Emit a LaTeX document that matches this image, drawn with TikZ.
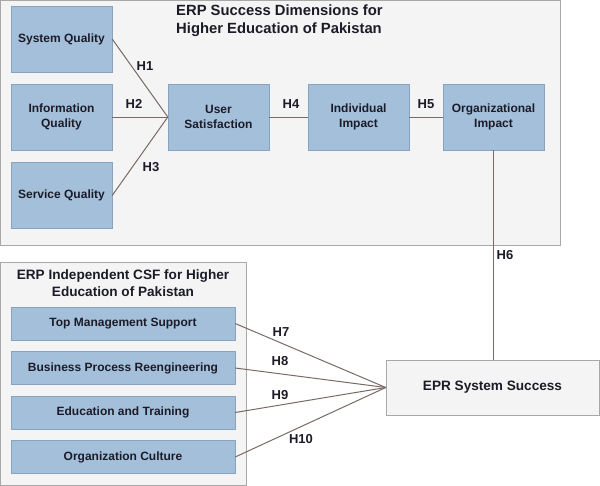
\documentclass[tikz,border=0pt]{standalone}
\usepackage{fontspec}
\setmainfont{Liberation Sans}
\usetikzlibrary{positioning}

\definecolor{boxblue}{HTML}{A3BFDA}
\definecolor{boxedge}{HTML}{86A3C0}
\definecolor{panelgray}{HTML}{F4F4F4}
\definecolor{paneledge}{HTML}{A8A8A8}
\definecolor{linkcol}{HTML}{7A6A66}
\definecolor{txtcol}{HTML}{1C1C28}

\tikzset{
  dim/.style={draw=boxedge, fill=boxblue, minimum width=101pt, minimum height=66pt,
    align=center, inner sep=2pt, text=txtcol, font=\bfseries\fontsize{12}{15}\selectfont},
  csf/.style={draw=boxedge, fill=boxblue, minimum width=224pt, minimum height=33pt,
    align=center, inner sep=2pt, text=txtcol, font=\bfseries\fontsize{12}{15}\selectfont},
  link/.style={draw=linkcol, line width=1pt},
  hlab/.style={text=txtcol, font=\bfseries\fontsize{13}{15}\selectfont, inner sep=1pt},
}

\begin{document}
\begin{tikzpicture}[x=1pt, y=-1pt]

\useasboundingbox (0,0) rectangle (600,485);
\fill[white] (0,0) rectangle (600,485);

% panels
\node[draw=paneledge, fill=panelgray, minimum width=560pt, minimum height=245pt, inner sep=0pt, anchor=north west] (top) at (0,0) {};
\node[draw=paneledge, fill=panelgray, minimum width=246pt, minimum height=223pt, inner sep=0pt, anchor=north west] (bottom) at (0,262) {};

\node[align=left, text=txtcol, font=\bfseries\fontsize{14.8}{17.5}\selectfont, anchor=north west, inner sep=0pt] (toptitle) at (176,5) {ERP Success Dimensions for\\Higher Education of Pakistan};
\node[align=center, text=txtcol, font=\bfseries\fontsize{13.6}{17}\selectfont] (bottomtitle) at (123,283) {ERP Independent CSF for Higher\\Education of Pakistan};

% success dimensions
\node[dim] (sysq) at (61.5,39) {System Quality};
\node[dim] (infq) at (61.5,117) {Information\\Quality};
\node[dim] (serq) at (61.5,195.5) {Service Quality};
\node[dim] (usat) at (218.5,117) {User\\Satisfaction};
\node[dim] (indi) at (358.5,117) {Individual\\Impact};
\node[dim] (orgi) at (493.5,117) {Organizational\\Impact};

% independent CSF
\node[csf] (tms) at (123,323.5) {Top Management Support};
\node[csf] (bpr) at (123,368) {Business Process Reengineering};
\node[csf] (edu) at (123,412.5) {Education and Training};
\node[csf] (cul) at (123,457) {Organization Culture};

\node[draw=paneledge, fill=panelgray, minimum width=213pt, minimum height=55pt, inner sep=0pt, text=txtcol, font=\bfseries\fontsize{13.6}{16}\selectfont] (eprs) at (492.5,387.5) {EPR System Success};

% links
\draw[link] (sysq.east) -- (usat.west);
\draw[link] (infq.east) -- (usat.west);
\draw[link] (serq.east) -- (usat.west);
\draw[link] (usat.east) -- (indi.west);
\draw[link] (indi.east) -- (orgi.west);
\draw[link] (orgi.south) -- (orgi.south |- eprs.north);
\draw[link] (tms.east) -- (eprs.west);
\draw[link] (bpr.east) -- (eprs.west);
\draw[link] (edu.east) -- (eprs.west);
\draw[link] (cul.east) -- (eprs.west);

% labels
\node[hlab] (h1) at (145,66) {H1};
\node[hlab] (h2) at (134,104) {H2};
\node[hlab] (h3) at (151,167) {H3};
\node[hlab] (h4) at (291,104) {H4};
\node[hlab] (h5) at (426,104) {H5};
\node[hlab] (h6) at (505,255) {H6};
\node[hlab] (h7) at (281,332) {H7};
\node[hlab] (h8) at (280,361) {H8};
\node[hlab] (h9) at (280,395) {H9};
\node[hlab] (h10) at (301,439) {H10};

\end{tikzpicture}
\end{document}
